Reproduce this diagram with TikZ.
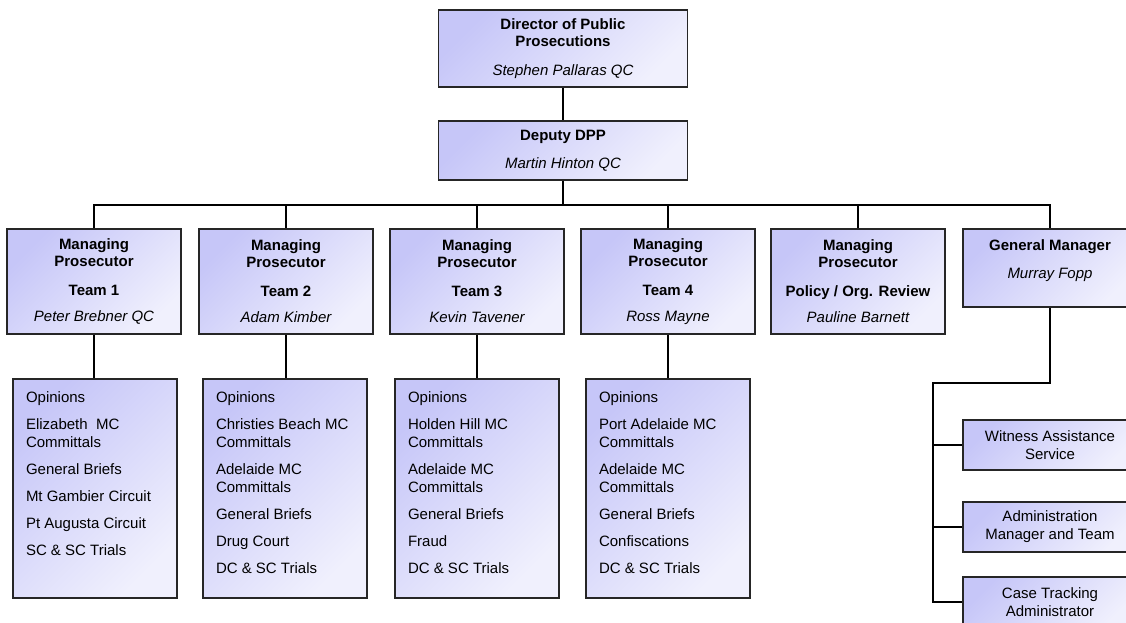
\documentclass[tikz,border=0pt]{standalone}
\usepackage{fontspec}
\setmainfont{Liberation Sans}
\definecolor{lavdark}{RGB}{198,198,248}
\definecolor{lavlight}{RGB}{240,240,253}
\newcommand{\holder}[1]{{\mdseries\itshape #1}}
\newcommand{\duties}[1]{\parbox[c][194pt][t]{138pt}{\fontsize{15}{18}\selectfont\raggedright #1}}
\begin{document}
\begin{tikzpicture}[x=1pt,y=-1pt,  % ------ l'organigramme ------------------
    orgbox/.style={draw=black!85, line width=1.7pt, top color=lavdark,
      bottom color=lavlight, shading angle=45, align=center, inner sep=0pt,
      font=\fontsize{15}{17}\selectfont},
    headbox/.style={orgbox, font=\fontsize{15}{17}\selectfont\bfseries,
      minimum width=249pt},
    mpbox/.style={headbox, minimum width=174pt, minimum height=105pt},
    dutybox/.style={orgbox, minimum width=164pt, minimum height=219pt,
      inner xsep=13pt},
    staffbox/.style={orgbox, minimum width=174pt, font=\fontsize{15}{18}\selectfont},
    wire/.style={line width=1.7pt}]
  \useasboundingbox (0,0) rectangle (1126,623);
  % direction
  \node[headbox, minimum height=77pt] (dpp) at (563,48.5)
    {Director of Public\\Prosecutions\\[12pt]\holder{Stephen Pallaras QC}};
  \node[headbox, minimum height=59pt] (dep) at (563,150.5)
    {Deputy DPP\\[11pt]\holder{Martin Hinton QC}};
  \coordinate (bus) at (563,205);
  % managing prosecutors
  \node[mpbox] (mp1) at (94,281.5)
    {Managing\\Prosecutor\\[12pt]Team 1\\[9pt]\holder{Peter Brebner QC}};
  \node[mpbox] (mp2) at (286,281.5)
    {Managing\\Prosecutor\\[12pt]Team 2\\[9pt]\holder{Adam Kimber}};
  \node[mpbox] (mp3) at (477,281.5)
    {Managing\\Prosecutor\\[12pt]Team 3\\[9pt]\holder{Kevin Tavener}};
  \node[mpbox] (mp4) at (668,281.5)
    {Managing\\Prosecutor\\[12pt]Team 4\\[9pt]\holder{Ross Mayne}};
  \node[mpbox] (mp5) at (858,281.5)
    {Managing\\Prosecutor\\[12pt]Policy / Org. Review\\[9pt]\holder{Pauline Barnett}};
  \node[mpbox, minimum height=78pt] (gm) at (1050,268)
    {General Manager\\[11pt]\holder{Murray Fopp}\\\mbox{}};
  % duties
  \node[dutybox] (op1) at (95,488.5) {\duties{Opinions\\[9pt]Elizabeth~ MC\\Committals\\[9pt]
    General Briefs\\[9pt]Mt Gambier Circuit\\[9pt]Pt Augusta Circuit\\[9pt]SC \& SC Trials}};
  \node[dutybox] (op2) at (285,488.5) {\duties{Opinions\\[9pt]Christies Beach MC\\Committals\\[9pt]
    Adelaide MC\\Committals\\[9pt]General Briefs\\[9pt]Drug Court\\[9pt]DC \& SC Trials}};
  \node[dutybox] (op3) at (477,488.5) {\duties{Opinions\\[9pt]Holden Hill MC\\Committals\\[9pt]
    Adelaide MC\\Committals\\[9pt]General Briefs\\[9pt]Fraud\\[9pt]DC \& SC Trials}};
  \node[dutybox] (op4) at (668,488.5) {\duties{Opinions\\[9pt]Port Adelaide MC\\Committals\\[9pt]
    Adelaide MC\\Committals\\[9pt]General Briefs\\[9pt]Confiscations\\[9pt]DC \& SC Trials}};
  % staff of the general manager
  \node[staffbox, minimum height=50pt] (wa) at (1050,445) {Witness Assistance\\Service};
  \node[staffbox, minimum height=50pt] (am) at (1050,527) {Administration\\Manager and Team};
  \node[staffbox, minimum height=50pt] (ct) at (1050,602) {Case Tracking\\Administrator};
  \coordinate (spine) at (933,383);
  % lines
  \draw[wire] (dpp) -- (dep);
  \draw[wire] (dep) -- (bus);
  \draw[wire] (mp1.north) |- (bus);
  \draw[wire] (mp2.north) |- (bus);
  \draw[wire] (mp3.north) |- (bus);
  \draw[wire] (mp4.north) |- (bus);
  \draw[wire] (mp5.north) |- (bus);
  \draw[wire] (gm.north) |- (bus);
  \draw[wire] (mp1.south) -- (mp1.south |- op1.north);
  \draw[wire] (mp2.south) -- (mp2.south |- op2.north);
  \draw[wire] (mp3.south) -- (mp3.south |- op3.north);
  \draw[wire] (mp4.south) -- (mp4.south |- op4.north);
  \draw[wire] (gm.south) |- (spine) -- (spine |- ct.west) -- (ct.west);
  \draw[wire] (spine |- wa.west) -- (wa.west);
  \draw[wire] (spine |- am.west) -- (am.west);
\end{tikzpicture}
\end{document}
